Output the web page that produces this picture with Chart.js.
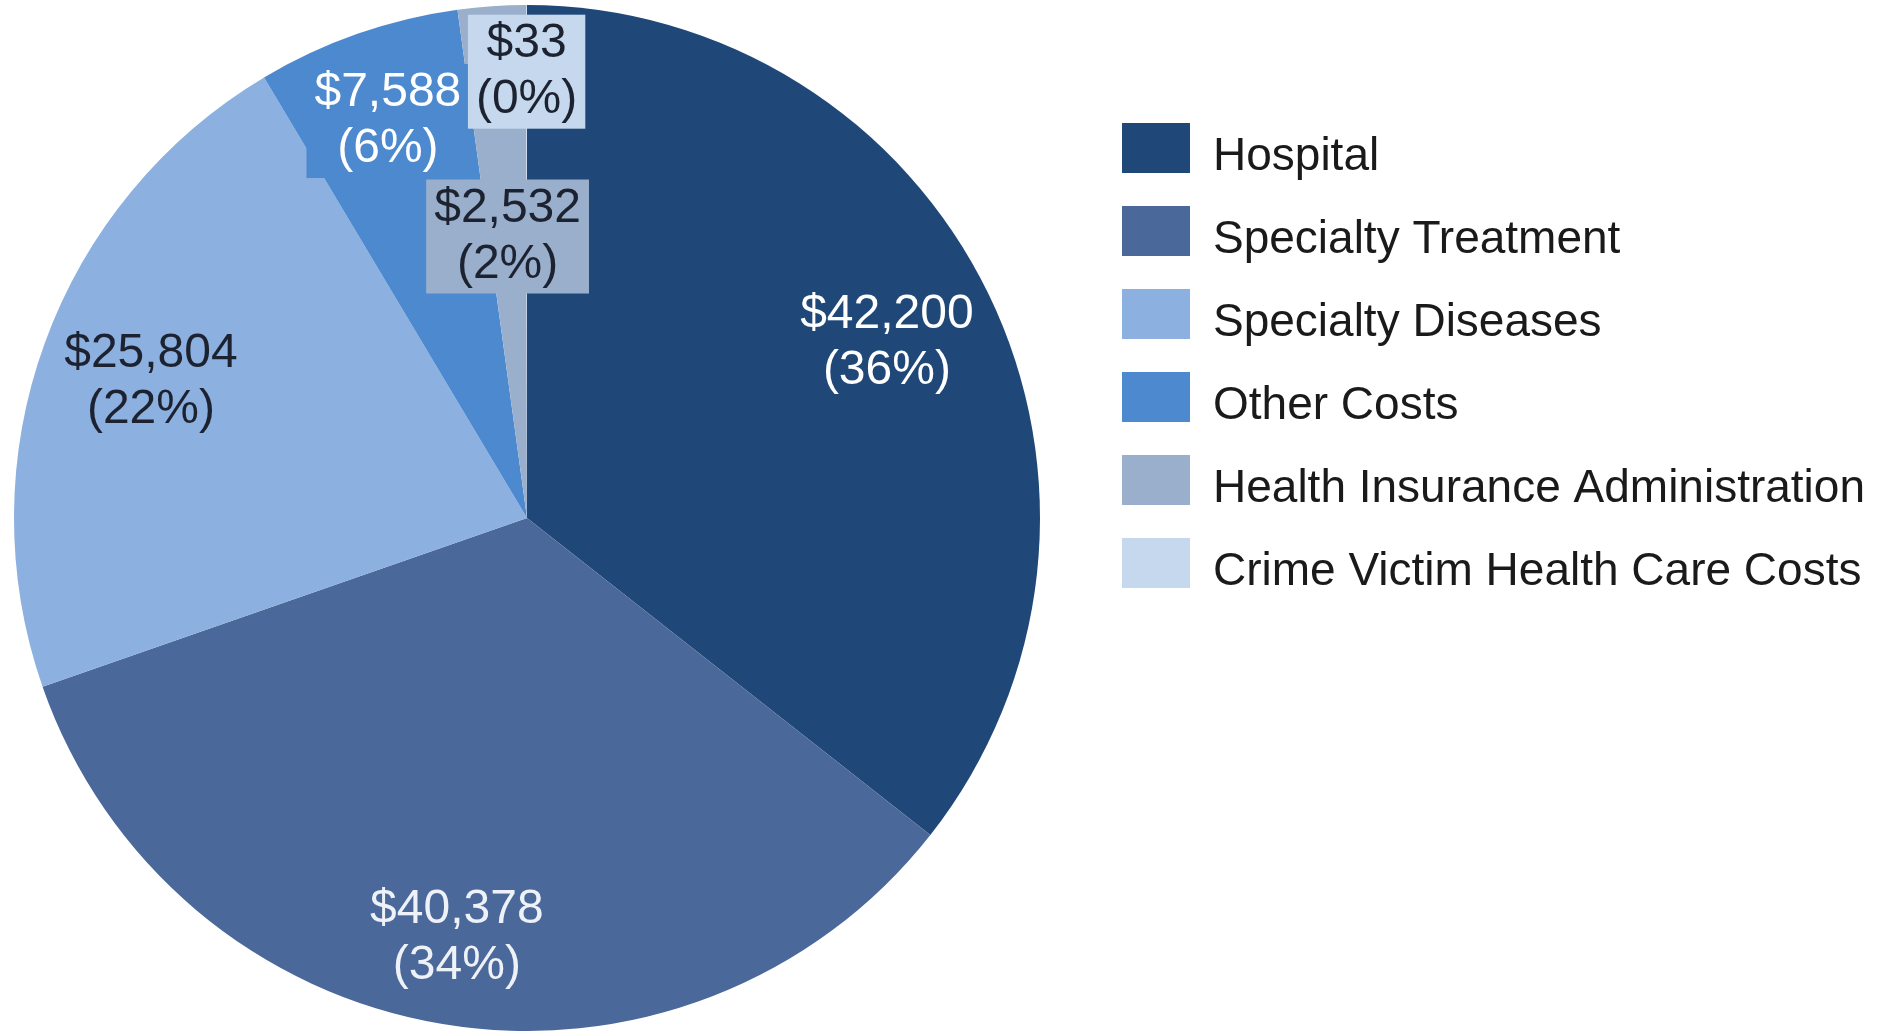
<!DOCTYPE html>
<html>
<head>
<meta charset="utf-8">
<script src="https://cdn.jsdelivr.net/npm/chart.js@4.4.0/dist/chart.umd.min.js"></script>
<style>
  html, body { margin: 0; padding: 0; background: #fff; overflow: hidden; }
  /* canvas is shifted left so the pie sits where it does in the original */
  #wrap { position: absolute; left: -31px; top: 0; width: 1932px; height: 1031px; }
</style>
</head>
<body>
<div id="wrap"><canvas id="costChart"></canvas></div>
<script>
const categories = [
  'Hospital',
  'Specialty Treatment',
  'Specialty Diseases',
  'Other Costs',
  'Health Insurance Administration',
  'Crime Victim Health Care Costs'
];
const costs = [42200, 40378, 25804, 7588, 2532, 33];

const sliceColors = ['#1f4878', '#4a6899', '#8cb0df', '#4d89cf', '#9aafcc', '#c5d8ee'];
const textColors = ['#ffffff', '#eef2f8', '#1c2230', '#ffffff', '#1c2230', '#1c2230'];
const labelDistance = [0.78, 0.83, 0.78, 0.82, 0.55, 0.87]; // fraction of radius
const labelBoxed = [false, false, false, true, true, true];

const FONT = '"Liberation Sans", Arial, sans-serif';
const LEGEND_SIZE = 46;
const LABEL_SIZE = 48;

const sliceLabels = {
  id: 'sliceLabels',
  afterDatasetsDraw(chart) {
    const ctx = chart.ctx;
    const meta = chart.getDatasetMeta(0);
    const total = costs.reduce((a, b) => a + b, 0);
    const lh = 56;
    ctx.save();
    ctx.font = LABEL_SIZE + 'px ' + FONT;
    ctx.textAlign = 'center';
    ctx.textBaseline = 'middle';
    meta.data.forEach((arc, i) => {
      const mid = (arc.startAngle + arc.endAngle) / 2;
      const dist = arc.outerRadius * labelDistance[i];
      const x = arc.x + Math.cos(mid) * dist;
      const y = arc.y + Math.sin(mid) * dist;
      const lines = [
        '$' + costs[i].toLocaleString('en-US'),
        '(' + Math.round(costs[i] / total * 100) + '%)'
      ];
      if (labelBoxed[i]) {
        const w = Math.max(...lines.map(t => ctx.measureText(t).width)) + 16;
        const h = lh * lines.length + 2;
        ctx.fillStyle = sliceColors[i];
        ctx.fillRect(x - w / 2, y - h / 2, w, h);
      }
      ctx.fillStyle = textColors[i];
      lines.forEach((t, k) => {
        ctx.fillText(t, x, y + (k - (lines.length - 1) / 2) * lh);
      });
    });
    ctx.restore();
  }
};

// legend swatch: a small canvas, the coloured box sits a little above the text middle
function swatch(color) {
  const c = document.createElement('canvas');
  c.width = 68;
  c.height = 68;
  const g = c.getContext('2d');
  g.fillStyle = color;
  g.fillRect(0, 0, 68, 50);
  return c;
}

// legend width depends on the longest label, so measure it first
const probe = document.createElement('canvas').getContext('2d');
probe.font = LEGEND_SIZE + 'px ' + FONT;
const longest = Math.max(...categories.map(c => probe.measureText(c).width));
const legendRightPad = Math.max(0, 1932 - 1116 - (37 + 68 + LEGEND_SIZE / 2 + longest + 10));

new Chart(document.getElementById('costChart'), {
  type: 'pie',
  data: {
    labels: categories,
    datasets: [{
      data: costs,
      backgroundColor: sliceColors,
      borderWidth: 0
    }]
  },
  options: {
    responsive: true,
    maintainAspectRatio: false,
    animation: false,
    events: [],
    layout: { padding: { top: 5, right: legendRightPad, left: 0, bottom: 0 } },
    plugins: {
      tooltip: { enabled: false },
      legend: {
        position: 'right',
        align: 'start',
        title: { display: true, text: '', padding: { top: 82, bottom: 0 }, font: { size: 10, lineHeight: 1 } },
        labels: {
          usePointStyle: true,
          pointStyleWidth: 68,
          padding: 37,
          color: '#1a1a1a',
          font: { family: FONT, size: LEGEND_SIZE },
          generateLabels: chart => chart.data.labels.map((label, i) => ({
            text: label,
            fillStyle: sliceColors[i],
            strokeStyle: sliceColors[i],
            fontColor: '#1a1a1a',
            lineWidth: 0,
            pointStyle: swatch(sliceColors[i]),
            hidden: false,
            index: i
          }))
        }
      }
    }
  },
  plugins: [sliceLabels]
});
</script>
</body>
</html>
